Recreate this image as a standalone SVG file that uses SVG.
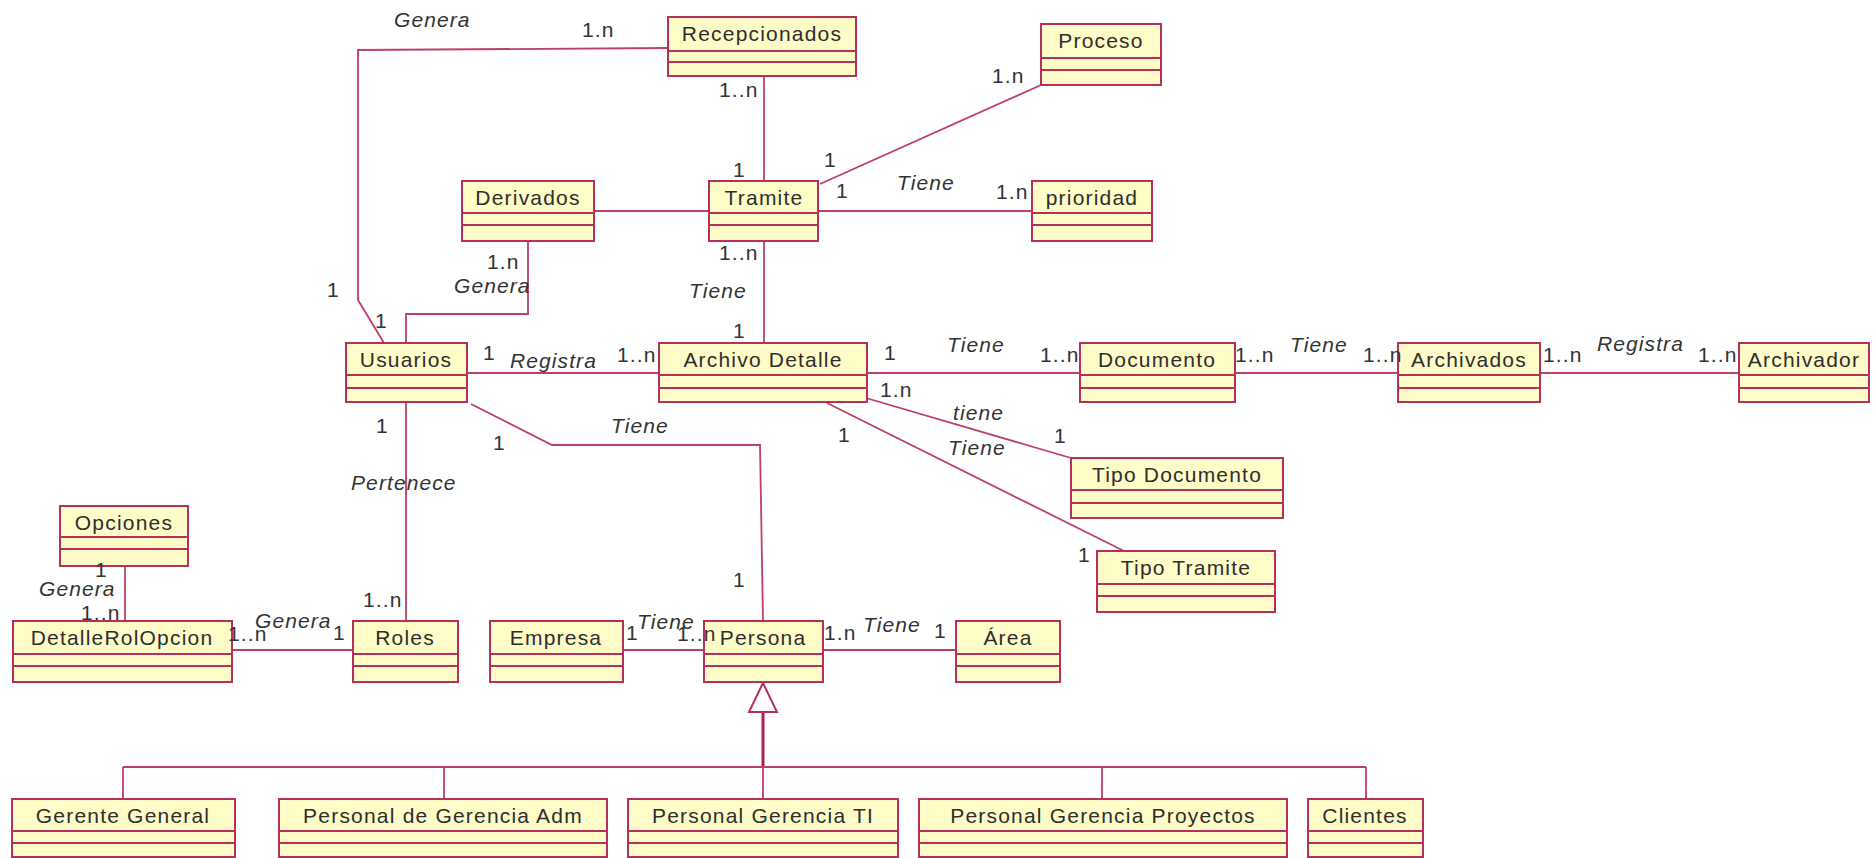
<svg xmlns="http://www.w3.org/2000/svg" width="1874" height="858" viewBox="0 0 1874 858">
  <style>
    .box { fill: #FFFCC8; stroke: #B5305A; stroke-width: 2; }
    .sep { stroke: #B5305A; stroke-width: 2; }
    .name { font-family: "Liberation Sans", Arial, sans-serif; font-size: 21px; letter-spacing: 1.2px; fill: #2e2e2e; text-anchor: middle; }
    .lbl { font-family: "Liberation Sans", Arial, sans-serif; font-size: 21px; letter-spacing: 1.1px; fill: #333333; }
    .it { font-style: italic; }
    .wire { fill: none; stroke: #BE3E68; stroke-width: 1.8; }
    .stem { fill: none; stroke: #A8234F; stroke-width: 3; }
    .tri { fill: #FFFFFF; stroke: #B5305A; stroke-width: 2; }
  </style>

  <!-- associations and generalization -->
  <g id="connectors">
    <path class="wire" d="M384,343 L358,300 L358,50 L668,48"/>
    <path class="wire" d="M528,241 L528,314 L406,314 L406,343"/>
    <path class="wire" d="M764,77 L764,181"/>
    <path class="wire" d="M820,184 L1041,85"/>
    <path class="wire" d="M594,211 L709,211"/>
    <path class="wire" d="M818,211 L1032,211"/>
    <path class="wire" d="M764,241 L764,343"/>
    <path class="wire" d="M467,373 L659,373"/>
    <path class="wire" d="M867,373 L1080,373"/>
    <path class="wire" d="M1235,373 L1398,373"/>
    <path class="wire" d="M1540,373 L1739,373"/>
    <path class="wire" d="M866,398 L1071,458"/>
    <path class="wire" d="M827,403 L1124,551"/>
    <path class="wire" d="M406,402 L406,621"/>
    <path class="wire" d="M471,404 L552,445 L760,445 L763,621"/>
    <path class="wire" d="M125,566 L125,621"/>
    <path class="wire" d="M232,650 L353,650"/>
    <path class="wire" d="M623,650 L704,650"/>
    <path class="wire" d="M823,650 L956,650"/>

    <path class="stem" d="M763,712 L763,767"/>
    <polygon class="tri" points="763,683 749,712 777,712"/>
    <path class="wire" d="M123,767 L1366,767"/>
    <path class="wire" d="M123,767 L123,799 M444,767 L444,799 M763,767 L763,799 M1102,767 L1102,799 M1366,767 L1366,799"/>
  </g>

  <!-- classes: header, attributes, operations -->
  <g id="recepcionados"><rect class="box" x="668" y="17" width="188" height="59"/><line class="sep" x1="668" y1="51" x2="856" y2="51"/><line class="sep" x1="668" y1="62" x2="856" y2="62"/><text class="name" x="762" y="41">Recepcionados</text></g>
  <g id="proceso"><rect class="box" x="1041" y="24" width="120" height="61"/><line class="sep" x1="1041" y1="58" x2="1161" y2="58"/><line class="sep" x1="1041" y1="70" x2="1161" y2="70"/><text class="name" x="1101" y="48">Proceso</text></g>
  <g id="derivados"><rect class="box" x="462" y="181" width="132" height="60"/><line class="sep" x1="462" y1="213" x2="594" y2="213"/><line class="sep" x1="462" y1="225" x2="594" y2="225"/><text class="name" x="528" y="205">Derivados</text></g>
  <g id="tramite"><rect class="box" x="709" y="181" width="109" height="60"/><line class="sep" x1="709" y1="213" x2="818" y2="213"/><line class="sep" x1="709" y1="225" x2="818" y2="225"/><text class="name" x="764" y="205">Tramite</text></g>
  <g id="prioridad"><rect class="box" x="1032" y="181" width="120" height="60"/><line class="sep" x1="1032" y1="213" x2="1152" y2="213"/><line class="sep" x1="1032" y1="225" x2="1152" y2="225"/><text class="name" x="1092" y="205">prioridad</text></g>
  <g id="usuarios"><rect class="box" x="346" y="343" width="121" height="59"/><line class="sep" x1="346" y1="375" x2="467" y2="375"/><line class="sep" x1="346" y1="388" x2="467" y2="388"/><text class="name" x="406" y="367">Usuarios</text></g>
  <g id="archivo-detalle"><rect class="box" x="659" y="343" width="208" height="59"/><line class="sep" x1="659" y1="375" x2="867" y2="375"/><line class="sep" x1="659" y1="388" x2="867" y2="388"/><text class="name" x="763" y="367">Archivo Detalle</text></g>
  <g id="documento"><rect class="box" x="1080" y="343" width="155" height="59"/><line class="sep" x1="1080" y1="375" x2="1235" y2="375"/><line class="sep" x1="1080" y1="388" x2="1235" y2="388"/><text class="name" x="1157" y="367">Documento</text></g>
  <g id="archivados"><rect class="box" x="1398" y="343" width="142" height="59"/><line class="sep" x1="1398" y1="375" x2="1540" y2="375"/><line class="sep" x1="1398" y1="388" x2="1540" y2="388"/><text class="name" x="1469" y="367">Archivados</text></g>
  <g id="archivador"><rect class="box" x="1739" y="343" width="130" height="59"/><line class="sep" x1="1739" y1="375" x2="1869" y2="375"/><line class="sep" x1="1739" y1="388" x2="1869" y2="388"/><text class="name" x="1804" y="367">Archivador</text></g>
  <g id="tipo-documento"><rect class="box" x="1071" y="458" width="212" height="60"/><line class="sep" x1="1071" y1="490" x2="1283" y2="490"/><line class="sep" x1="1071" y1="503" x2="1283" y2="503"/><text class="name" x="1177" y="482">Tipo Documento</text></g>
  <g id="tipo-tramite"><rect class="box" x="1097" y="551" width="178" height="61"/><line class="sep" x1="1097" y1="584" x2="1275" y2="584"/><line class="sep" x1="1097" y1="596" x2="1275" y2="596"/><text class="name" x="1186" y="575">Tipo Tramite</text></g>
  <g id="opciones"><rect class="box" x="60" y="506" width="128" height="60"/><line class="sep" x1="60" y1="537" x2="188" y2="537"/><line class="sep" x1="60" y1="549" x2="188" y2="549"/><text class="name" x="124" y="530">Opciones</text></g>
  <g id="detalle-rol-opcion"><rect class="box" x="13" y="621" width="219" height="61"/><line class="sep" x1="13" y1="654" x2="232" y2="654"/><line class="sep" x1="13" y1="666" x2="232" y2="666"/><text class="name" x="122" y="645">DetalleRolOpcion</text></g>
  <g id="roles"><rect class="box" x="353" y="621" width="105" height="61"/><line class="sep" x1="353" y1="654" x2="458" y2="654"/><line class="sep" x1="353" y1="666" x2="458" y2="666"/><text class="name" x="405" y="645">Roles</text></g>
  <g id="empresa"><rect class="box" x="490" y="621" width="133" height="61"/><line class="sep" x1="490" y1="654" x2="623" y2="654"/><line class="sep" x1="490" y1="666" x2="623" y2="666"/><text class="name" x="556" y="645">Empresa</text></g>
  <g id="persona"><rect class="box" x="704" y="621" width="119" height="61"/><line class="sep" x1="704" y1="654" x2="823" y2="654"/><line class="sep" x1="704" y1="666" x2="823" y2="666"/><text class="name" x="763" y="645">Persona</text></g>
  <g id="area"><rect class="box" x="956" y="621" width="104" height="61"/><line class="sep" x1="956" y1="654" x2="1060" y2="654"/><line class="sep" x1="956" y1="666" x2="1060" y2="666"/><text class="name" x="1008" y="645">Área</text></g>
  <g id="gerente-general"><rect class="box" x="12" y="799" width="223" height="58"/><line class="sep" x1="12" y1="831" x2="235" y2="831"/><line class="sep" x1="12" y1="843" x2="235" y2="843"/><text class="name" x="123" y="823">Gerente General</text></g>
  <g id="gerencia-adm"><rect class="box" x="279" y="799" width="328" height="58"/><line class="sep" x1="279" y1="831" x2="607" y2="831"/><line class="sep" x1="279" y1="843" x2="607" y2="843"/><text class="name" x="443" y="823">Personal de Gerencia Adm</text></g>
  <g id="gerencia-ti"><rect class="box" x="628" y="799" width="270" height="58"/><line class="sep" x1="628" y1="831" x2="898" y2="831"/><line class="sep" x1="628" y1="843" x2="898" y2="843"/><text class="name" x="763" y="823">Personal Gerencia TI</text></g>
  <g id="gerencia-proyectos"><rect class="box" x="919" y="799" width="368" height="58"/><line class="sep" x1="919" y1="831" x2="1287" y2="831"/><line class="sep" x1="919" y1="843" x2="1287" y2="843"/><text class="name" x="1103" y="823">Personal Gerencia Proyectos</text></g>
  <g id="clientes"><rect class="box" x="1308" y="799" width="115" height="58"/><line class="sep" x1="1308" y1="831" x2="1423" y2="831"/><line class="sep" x1="1308" y1="843" x2="1423" y2="843"/><text class="name" x="1365" y="823">Clientes</text></g>

  <!-- role names and multiplicities, drawn above the class boxes -->
  <g id="association-labels">
    <text class="lbl it" x="394" y="27">Genera</text>
    <text class="lbl" x="582" y="37">1.n</text>
    <text class="lbl" x="719" y="97">1..n</text>
    <text class="lbl" x="733" y="177">1</text>
    <text class="lbl" x="992" y="83">1.n</text>
    <text class="lbl" x="824" y="167">1</text>
    <text class="lbl" x="836" y="198">1</text>
    <text class="lbl it" x="897" y="190">Tiene</text>
    <text class="lbl" x="996" y="199">1.n</text>
    <text class="lbl" x="487" y="269">1.n</text>
    <text class="lbl it" x="454" y="293">Genera</text>
    <text class="lbl" x="327" y="297">1</text>
    <text class="lbl" x="719" y="260">1..n</text>
    <text class="lbl it" x="689" y="298">Tiene</text>
    <text class="lbl" x="733" y="338">1</text>
    <text class="lbl" x="375" y="328">1</text>
    <text class="lbl" x="483" y="360">1</text>
    <text class="lbl it" x="510" y="368">Registra</text>
    <text class="lbl" x="617" y="362">1..n</text>
    <text class="lbl" x="884" y="360">1</text>
    <text class="lbl it" x="947" y="352">Tiene</text>
    <text class="lbl" x="1040" y="362">1..n</text>
    <text class="lbl" x="1235" y="362">1..n</text>
    <text class="lbl it" x="1290" y="352">Tiene</text>
    <text class="lbl" x="1363" y="362">1..n</text>
    <text class="lbl" x="1543" y="362">1..n</text>
    <text class="lbl it" x="1597" y="351">Registra</text>
    <text class="lbl" x="1698" y="362">1..n</text>
    <text class="lbl" x="880" y="397">1.n</text>
    <text class="lbl it" x="953" y="420">tiene</text>
    <text class="lbl" x="1054" y="443">1</text>
    <text class="lbl it" x="948" y="455">Tiene</text>
    <text class="lbl" x="838" y="442">1</text>
    <text class="lbl" x="1078" y="562">1</text>
    <text class="lbl" x="376" y="433">1</text>
    <text class="lbl" x="493" y="450">1</text>
    <text class="lbl it" x="611" y="433">Tiene</text>
    <text class="lbl it" x="351" y="490">Pertenece</text>
    <text class="lbl" x="733" y="587">1</text>
    <text class="lbl" x="95" y="577">1</text>
    <text class="lbl it" x="39" y="596">Genera</text>
    <text class="lbl" x="81" y="620">1..n</text>
    <text class="lbl" x="363" y="607">1..n</text>
    <text class="lbl it" x="255" y="628">Genera</text>
    <text class="lbl" x="333" y="640">1</text>
    <text class="lbl" x="228" y="641">1..n</text>
    <text class="lbl" x="626" y="640">1</text>
    <text class="lbl it" x="637" y="629">Tiene</text>
    <text class="lbl" x="677" y="641">1..n</text>
    <text class="lbl" x="824" y="640">1.n</text>
    <text class="lbl it" x="863" y="632">Tiene</text>
    <text class="lbl" x="934" y="638">1</text>
  </g>
</svg>
